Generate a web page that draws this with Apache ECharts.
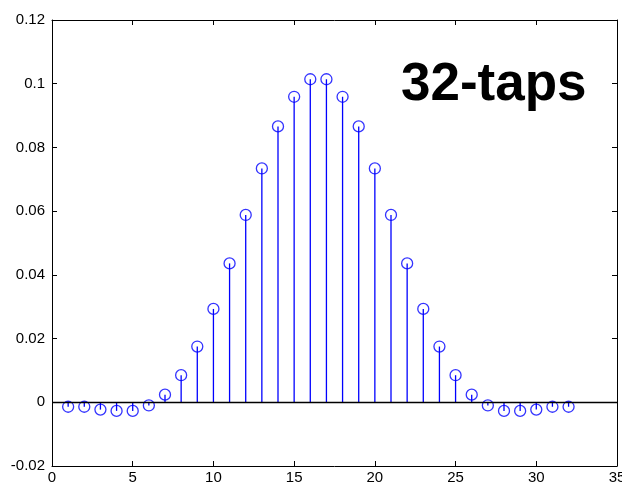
<!DOCTYPE html>
<html>
<head>
<meta charset="utf-8">
<script src="https://cdn.jsdelivr.net/npm/echarts@6/dist/echarts.min.js"></script>
<style>html,body{margin:0;padding:0;background:#fff}#c{width:622px;height:482px}</style>
</head>
<body>
<div id="c"></div>
<script>
var taps = [1,2,3,4,5,6,7,8,9,10,11,12,13,14,15,16,17,18,19,20,21,22,23,24,25,26,27,28,29,30,31,32];
var coeffs = [-0.0014,-0.0014,-0.0023,-0.0027,-0.0027,-0.0010,0.0024,0.0085,0.0175,0.0293,0.0436,0.0588,0.0734,0.0866,0.0959,0.1014,
              0.1014,0.0959,0.0866,0.0734,0.0588,0.0436,0.0293,0.0175,0.0085,0.0024,-0.0010,-0.0027,-0.0027,-0.0023,-0.0014,-0.0014];
var titleText = '32-taps';

var pts = taps.map(function(t,i){return [t, coeffs[i]];});
var font = 'Liberation Sans, Arial, Helvetica, sans-serif';
var blue = '#0000ff';

function axisCommon(showLabel){
  return {
    axisLine:{show:true,onZero:false,lineStyle:{color:'#000',width:1}},
    axisTick:{show:true,inside:true,length:5,lineStyle:{color:'#000',width:1}},
    axisLabel:{show:showLabel,color:'#000',fontFamily:font,fontSize:15},
    splitLine:{show:false}
  };
}
var xb = Object.assign(axisCommon(true),{type:'value',position:'bottom',min:0,max:35,interval:5});
xb.axisLabel.margin = 4;
var xt = Object.assign(axisCommon(false),{type:'value',position:'top',min:0,max:35,interval:5});
var yl = Object.assign(axisCommon(true),{type:'value',position:'left',min:-0.02,max:0.12,interval:0.02});
yl.axisLabel.margin = 7;
var yr = Object.assign(axisCommon(false),{type:'value',position:'right',min:-0.02,max:0.12,interval:0.02});

var chart = echarts.init(document.getElementById('c'), null, {renderer:'canvas'});
chart.setOption({
  animation:false,
  backgroundColor:'#fff',
  grid:{left:52,right:5,top:20,bottom:16,containLabel:false,outerBoundsMode:'none'},
  xAxis:[xb, xt],
  yAxis:[yl, yr],
  graphic:[{type:'text',left:401,top:59,style:{text:titleText,fontSize:53,fontWeight:'bold',fontFamily:font,fill:'#000'}}],
  series:[
    {type:'custom',xAxisIndex:0,yAxisIndex:0,data:pts,
     renderItem:function(params, api){
       var p0 = api.coord([api.value(0),0]);
       var p1 = api.coord([api.value(0),api.value(1)]);
       return {type:'line',shape:{x1:p0[0],y1:p0[1],x2:p1[0],y2:p1[1]},style:{stroke:blue,lineWidth:1.3}};
     },
     markLine:{silent:true,symbol:'none',label:{show:false},lineStyle:{color:'#000',width:1.3,type:'solid'},data:[{yAxis:0}]}
    },
    {type:'scatter',xAxisIndex:0,yAxisIndex:0,data:pts,symbol:'circle',symbolSize:11,
     itemStyle:{color:'rgba(0,0,0,0)',borderColor:blue,borderWidth:1.3}}
  ]
});
</script>
</body>
</html>
